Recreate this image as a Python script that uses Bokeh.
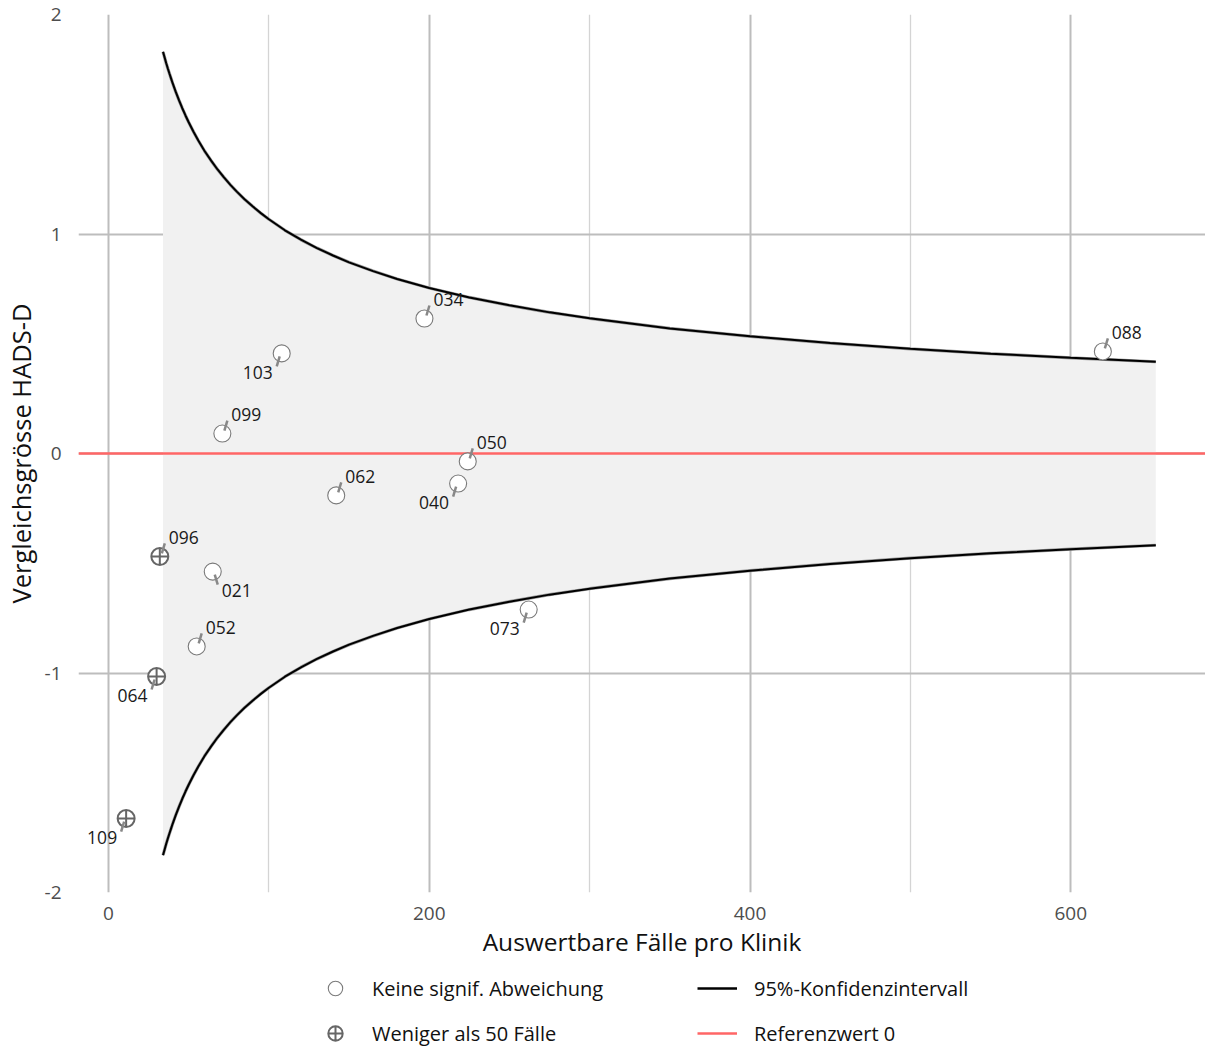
from bokeh.plotting import figure
from bokeh.layouts import column
from bokeh.models import (Range1d, FixedTicker, Legend, LegendItem, CustomJSTickFormatter)
from bokeh.core.properties import value
from bokeh.embed import file_html
from bokeh.resources import INLINE

# ---- data ----
clinic_ids = ["034", "088", "103", "099", "050", "040", "062", "096", "021", "073", "052", "064", "109"]
cases = [197, 620, 108, 71, 224, 218, 142, 32, 65, 262, 55, 30, 11]
score = [0.615, 0.465, 0.456, 0.091, -0.036, -0.137, -0.191, -0.469, -0.538, -0.711, -0.879, -1.016, -1.663]
under50 = [False, False, False, False, False, False, False, True, False, False, False, True, True]

# 95% confidence limits (upper; lower is the mirror), read from the funnel
ci_n = [34, 35, 36, 37, 38, 39, 40, 42, 44, 46, 48, 50, 53, 56, 60, 64, 68, 72, 76, 80, 85,
        90, 95, 100, 110, 120, 130, 140, 150, 165, 180, 200, 225, 250, 275, 300, 350, 400,
        450, 500, 550, 600, 653]
ci_upper = [1.830, 1.804, 1.778, 1.754, 1.731, 1.709, 1.687, 1.646, 1.609, 1.573, 1.540,
            1.509, 1.466, 1.426, 1.377, 1.334, 1.294, 1.258, 1.224, 1.193, 1.157, 1.125,
            1.095, 1.067, 1.017, 0.974, 0.936, 0.902, 0.871, 0.831, 0.795, 0.754, 0.711,
            0.675, 0.643, 0.616, 0.570, 0.534, 0.503, 0.477, 0.455, 0.436, 0.418]
ci_lower = [-v for v in ci_upper]

reference_value = 0
x_ticks = [0, 200, 400, 600]
x_minor = [100, 300, 500]
y_ticks = [-2, -1, 0, 1, 2]

legend_labels = ["Keine signif. Abweichung", "Weniger als 50 Fälle",
                 "95%-Konfidenzintervall", "Referenzwert 0"]

# label placement (layout only): direction of label relative to point
label_dir = ["ur", "ur", "dl", "ur", "ur", "dl", "ur", "ur", "dr", "dl", "ur", "dl", "dl"]

FONT = "Open Sans"
X0, X1 = -18.7, 684.0
Y0, Y1 = -2.0, 2.0
FW, FH = 1127, 878

p = figure(width=1205, height=960, frame_width=FW, frame_height=FH,
           x_range=Range1d(X0, X1), y_range=Range1d(Y0, Y1),
           output_backend="svg", toolbar_location=None,
           min_border_left=78, min_border_right=0, min_border_top=14, min_border_bottom=68,
           background_fill_color="white", border_fill_color="white", outline_line_color=None)

px_x = FW / (X1 - X0)
px_y = FH / (Y1 - Y0)

# grid
p.xgrid.ticker = FixedTicker(ticks=x_ticks, minor_ticks=x_minor)
p.ygrid.ticker = FixedTicker(ticks=y_ticks)
for g in (p.xgrid, p.ygrid):
    g.grid_line_color = "#bdbdbd"
    g.grid_line_width = 2
p.xgrid.minor_grid_line_color = "#d4d4d4"
p.xgrid.minor_grid_line_width = 1.3

# funnel band
p.varea(x=ci_n, y1=ci_lower, y2=ci_upper, fill_color="#f1f1f1")
p.line(ci_n, ci_upper, line_color="#9a9a9a", line_width=3.2)
p.line(ci_n, ci_lower, line_color="#9a9a9a", line_width=3.2)
p.line(ci_n, ci_upper, line_color="black", line_width=2)
p.line(ci_n, ci_lower, line_color="black", line_width=2)

# reference line
p.line([X0, X1], [reference_value, reference_value], line_color="#ff6666", line_width=2.5)

# points
ok_x = [n for n, u in zip(cases, under50) if not u]
ok_y = [s for s, u in zip(score, under50) if not u]
lo_x = [n for n, u in zip(cases, under50) if u]
lo_y = [s for s, u in zip(score, under50) if u]
OK_STYLE = dict(marker="circle", size=17, fill_color="white", line_color="#7a7a7a", line_width=1.1)
LO_STYLE = dict(marker="circle_cross", size=17, fill_color="white", line_color="#666666", line_width=2)
p.scatter(ok_x, ok_y, **OK_STYLE)
p.scatter(lo_x, lo_y, **LO_STYLE)

# leader segments + labels
offs = {"ur": ((2, -3), (5, -13), (9, -19), "left"),
        "dl": ((-2, 3), (-5, 13), (-9, 19), "right"),
        "dr": ((2, 3), (5, 13), (9, 19), "left")}
sx0, sy0, sx1, sy1 = [], [], [], []
lx, ly, ltxt, lal = [], [], [], []
for cid, n, s, d in zip(clinic_ids, cases, score, label_dir):
    a, b, t, al = offs[d]
    sx0.append(n + a[0] / px_x); sy0.append(s - a[1] / px_y)
    sx1.append(n + b[0] / px_x); sy1.append(s - b[1] / px_y)
    lx.append(n + t[0] / px_x); ly.append(s - t[1] / px_y)
    ltxt.append(cid); lal.append(al)
p.segment(sx0, sy0, sx1, sy1, line_color="#888888", line_width=2.5)
p.text(x=lx, y=ly, text=ltxt, text_align=lal, text_baseline="middle",
       text_font=value(FONT), text_font_size="17.5px", text_color="#1a1a1a")

# axes
for ax in (p.xaxis, p.yaxis):
    ax.axis_line_color = None
    ax.major_tick_line_color = None
    ax.minor_tick_line_color = None
    ax.major_label_text_font = FONT
    ax.major_label_text_font_size = "19px"
    ax.major_label_text_color = "#4d4d4d"
    ax.axis_label_text_font = FONT
    ax.axis_label_text_font_style = "normal"
    ax.axis_label_text_color = "#111111"
    ax.formatter = CustomJSTickFormatter(code="return tick.toString();")
p.xaxis.ticker = FixedTicker(ticks=x_ticks)
p.yaxis.ticker = FixedTicker(ticks=y_ticks)
p.xaxis.axis_label = "Auswertbare Fälle pro Klinik"
p.yaxis.axis_label = "Vergleichsgrösse HADS-D"
p.xaxis.axis_label_text_font_size = "24.5px"
p.yaxis.axis_label_text_font_size = "25.5px"
p.xaxis.major_label_standoff = 8
p.xaxis.axis_label_standoff = 2
p.yaxis.major_label_standoff = 11
p.yaxis.axis_label_standoff = 4

# ---- legend strip below the chart (key glyphs sit outside the visible range) ----
lg = figure(width=1205, height=88, x_range=Range1d(0, 1), y_range=Range1d(0, 1),
            x_axis_type=None, y_axis_type=None, output_backend="svg", toolbar_location=None,
            min_border=0, outline_line_color=None, background_fill_color="white",
            border_fill_color="white")
lg.xgrid.visible = False
lg.ygrid.visible = False
g_ok = lg.scatter([-5], [-5], **OK_STYLE)
g_lo = lg.scatter([-5], [-5], **LO_STYLE)
g_ci = lg.line([-6, -5], [-5, -5], line_color="black", line_width=2.5)
g_ref = lg.line([-6, -5], [-5, -5], line_color="#ff6666", line_width=2.5)

legend = Legend(items=[
    LegendItem(label=legend_labels[0], renderers=[g_ok]),
    LegendItem(label=legend_labels[2], renderers=[g_ci]),
    LegendItem(label=legend_labels[1], renderers=[g_lo]),
    LegendItem(label=legend_labels[3], renderers=[g_ref]),
], ncols=2, location=(237, -3), orientation="horizontal",
    label_text_font=FONT, label_text_font_size="20px", label_text_color="#111111",
    glyph_width=40, glyph_height=36, label_standoff=17, label_width=316, spacing=9,
    padding=0, margin=0, border_line_color=None, background_fill_alpha=0)
lg.add_layout(legend, "center")

open("out.html", "w").write(file_html(column(p, lg, spacing=0), INLINE))
